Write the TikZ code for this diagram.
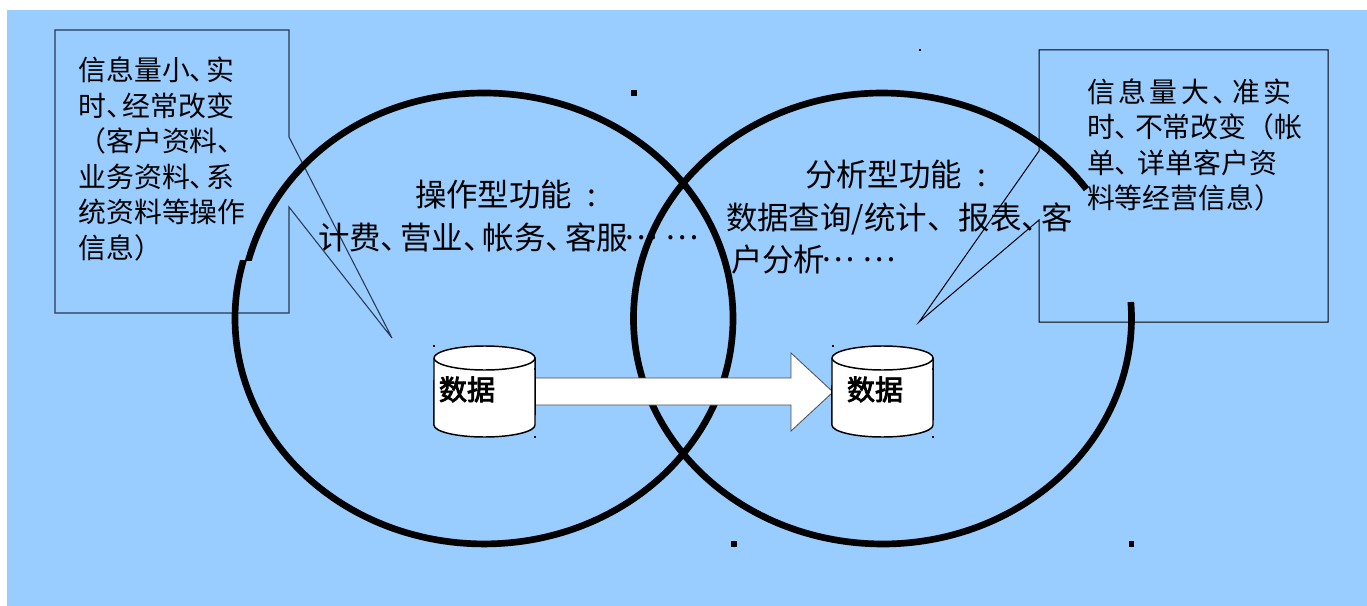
\documentclass[tikz,border=0pt]{standalone}
\usepackage{fontspec}
\setmainfont{Noto Sans CJK SC}
\newfontfamily\fakebold[FakeBold=3]{Noto Sans CJK SC}
\newcommand{\dn}{\makebox[.58em][l]{、}}
\newcommand{\dm}{\makebox[.62em][l]{、}}
\newcommand{\wk}{\kern2.6pt}
\newcommand{\dotsrun}{\raisebox{.3em}{\makebox[.8em][c]{…}}\kern.5em\raisebox{.3em}{\makebox[.8em][c]{…}}}
\definecolor{bgblue}{HTML}{99CCFF}
\definecolor{boxline}{HTML}{2A3A50}
\tikzset{
 x=.75pt,y=.75pt,
 ringline/.style={line width=5pt,black},
 callout/.style={draw=boxline,line width=.8pt,line join=miter},
 calloutb/.style={draw=black,line width=.75pt,line join=miter},
 boxtext/.style={anchor=base west,inner sep=0pt,outer sep=0pt,font=\fontsize{20.9pt}{24pt}\selectfont,text=black},
 maintext/.style={anchor=base west,inner sep=0pt,outer sep=0pt,font=\fontsize{23.6pt}{26pt}\selectfont,text=black},
 cyltext/.style={anchor=base west,inner sep=0pt,outer sep=0pt,font=\fakebold\fontsize{21pt}{24pt}\selectfont},
 cylbody/.style={draw=black,fill=white,line width=1.1pt},
 bigarrow/.style={draw=black!70,fill=white,line width=.6pt},
 marker/.style={fill=black,inner sep=0pt,minimum size=4.4pt,outer sep=0pt,rectangle},
 tick/.style={fill=black,inner sep=0pt,minimum size=1.3pt,outer sep=0pt,rectangle},
}
\begin{document}
\begin{tikzpicture}
\useasboundingbox (0,-606) rectangle (1367,0);
\fill[bgblue] (7,-606) rectangle (1367,-10);
% left callout
\draw[callout] (55,-30) -- (289,-30) -- (289,-137) -- (392,-338) -- (289,-207) -- (289,-313) -- (55,-313) -- cycle;
% right callout
\draw[calloutb] (1039,-50) -- (1328,-50) -- (1328,-322) -- (1039,-322) -- (1039,-220) -- (919,-322) -- (1039,-151) -- cycle;
% rings
\begin{scope}
\clip (0,-260) rectangle (1367,0);
\draw[ringline] (247,-267) -- (248.5,-260) .. controls (277.7,-159.4) and (371.3,-93) .. (484,-93);
\end{scope}
\begin{scope}
\clip (0,-606) -- (1367,-606) -- (1367,0) -- (300,0) -- (300,-260) -- (0,-260) -- cycle;
\draw[ringline] (484,-93) arc[start angle=90,end angle=-200,x radius=186.75pt,y radius=169.1pt];
\end{scope}
\draw[ringline] (882.5,-318.5) ++(35:186.75pt and 169.1pt) arc[start angle=35,end angle=364.2,x radius=186.75pt,y radius=169.1pt];
% arrow
\draw[bigarrow] (535,-378) -- (791,-378) -- (791,-353) -- (833,-392) -- (791,-431) -- (791,-405) -- (535,-405) -- cycle;
% cylinders
\draw[cylbody] (434,-358) arc[start angle=180,end angle=0,x radius=37.9pt,y radius=9pt] -- (535,-425) arc[start angle=360,end angle=180,x radius=37.9pt,y radius=9pt] -- cycle;
\draw[cylbody] (434,-358) arc[start angle=180,end angle=360,x radius=37.9pt,y radius=9pt];
\draw[cylbody] (832,-358) arc[start angle=180,end angle=0,x radius=37.9pt,y radius=9pt] -- (933,-425) arc[start angle=360,end angle=180,x radius=37.9pt,y radius=9pt] -- cycle;
\draw[cylbody] (832,-358) arc[start angle=180,end angle=360,x radius=37.9pt,y radius=9pt];
% markers
\node[marker] (m1) at (634,-93) {};
\node[marker] (m2) at (734,-544) {};
\node[marker] (m3) at (1131.5,-544) {};
\node[tick] (t0) at (920,-50) {};
\node[tick] (t1) at (434,-346) {};
\node[tick] (t2) at (535,-369) {};
\node[tick] (t3) at (535,-437) {};
\node[tick] (t4) at (833,-346) {};
\node[tick] (t5) at (933,-369) {};
\node[tick] (t6) at (933,-437) {};
% left callout text
\node[boxtext] (l1) at (78.5,-81) {信息量小\dn 实};
\node[boxtext] (l2) at (78.5,-117) {时\dn 经常改变};
\node[boxtext] (l3) at (78.5,-152) {（客户资料\dn};
\node[boxtext] (l4) at (78.5,-188) {业务资料\dn 系};
\node[boxtext] (l5) at (78.5,-223) {统资料等操作};
\node[boxtext] (l6) at (78.5,-258) {信息）};
% right callout text
\node[boxtext] (r1) at (1087,-103) {信\wk 息\wk 量\wk 大\wk\dn\wk 准\wk 实};
\node[boxtext] (r2) at (1087,-138) {时\dn\kern3pt 不常改变（帐};
\node[boxtext] (r3) at (1087,-174) {单\dn\kern5pt 详单客户资};
\node[boxtext] (r4) at (1087,-209) {料等经营信息）};
% main text
\node[maintext] (a1) at (415,-206) {操作型功能\kern11pt:};
\node[maintext] (a2) at (318,-249) {计费\dm 营业\dm 帐务\dm 客服\dotsrun};
\node[maintext] (b1) at (805,-187) {分析型功能\kern11pt:};
\node[maintext] (b2) at (726,-229) {数据查询/统计、报表\dm 客};
\node[maintext] (b3) at (731,-271) {户分析\dotsrun};
% cylinder text
\node[cyltext] (c1) at (439,-400) {数据};
\node[cyltext] (c2) at (847,-400) {数据};
\end{tikzpicture}
\end{document}
